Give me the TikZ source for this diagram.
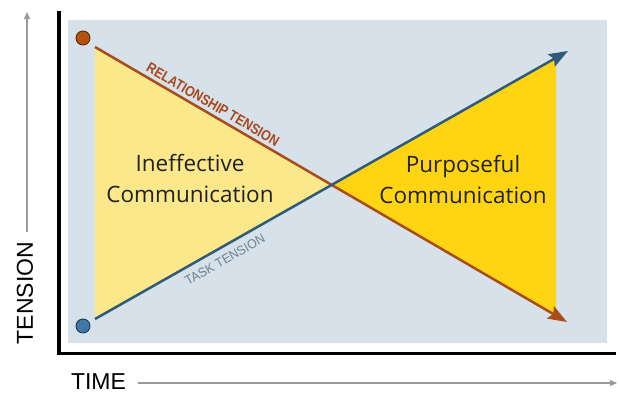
\documentclass[tikz,border=0pt]{standalone}
\usepackage{fontspec}
\setmainfont{Liberation Sans}
\newfontfamily\osans{Open Sans}
\usetikzlibrary{arrows.meta,calc}
\definecolor{panelc}{HTML}{D7E1EA}
\definecolor{lyel}{HTML}{FBE88A}
\definecolor{goldc}{HTML}{FFD513}
\definecolor{redl}{HTML}{A94C1C}
\definecolor{reddot}{HTML}{B5520F}
\definecolor{reddark}{HTML}{5A2A0A}
\definecolor{bluel}{HTML}{2F5A78}
\definecolor{bluedot}{HTML}{3E78A8}
\definecolor{bluedark}{HTML}{1F3A50}
\definecolor{tasktxt}{HTML}{6E8094}
\definecolor{reltxt}{HTML}{A9481C}
\definecolor{axgray}{HTML}{9A9A9A}
\definecolor{bigtxt}{HTML}{222222}
\tikzset{
  dotnode/.style={circle, minimum size=14pt, inner sep=0pt, line width=0.9pt},
  tensionline/.style={line width=2.5pt, -{Stealth[length=19pt,width=14pt,inset=3pt]}},
  axislabel/.style={font=\fontsize{23}{23}\selectfont, text=black, inner sep=0pt},
  guidearrow/.style={axgray, line width=1.3pt, -{Triangle[length=7pt,width=6pt]}},
  biglabel/.style={font=\osans\fontsize{22.5}{31}\selectfont, text=bigtxt, align=center, inner sep=0pt},
}
\begin{document}
\begin{tikzpicture}[x=1pt,y=-1pt]
\useasboundingbox[fill=white] (0,0) rectangle (619,394);
% panel
\fill[panelc] (68,20) rectangle (607,343);
% coordinates
\coordinate (rs) at (95,47);
\coordinate (re) at (567,322);
\coordinate (bs) at (95,319);
\coordinate (be) at (568,51);
\coordinate (cx) at (intersection of rs--re and bs--be);
\coordinate (gt) at (556,57.8);
\coordinate (gb) at (556,315.6);
% triangles
\fill[lyel] (rs) -- (cx) -- (bs) -- cycle;
\fill[goldc] (cx) -- (gt) -- (gb) -- cycle;
% lines
\draw[tensionline, redl] (rs) -- (re);
\draw[tensionline, bluel] (bs) -- (be);
% dots
\node[dotnode, fill=reddot, draw=reddark] (rdot) at (83,38) {};
\node[dotnode, fill=bluedot, draw=bluedark] (bdot) at (83,326) {};
% black axes
\coordinate (axtop) at (59,11);
\coordinate (axright) at (616,353.5);
\draw[line width=3.5pt] (axtop) |- (axright);
% line labels
\node[rotate=-30.2, font=\bfseries\fontsize{14.5}{14.5}\selectfont, text=reltxt, inner sep=0pt, xscale=0.86] (rellab) at (213,104.5) {RELATIONSHIP TENSION};
\node[rotate=29.5, font=\fontsize{13}{13}\selectfont, text=tasktxt, inner sep=0pt, xscale=0.95] (tasklab) at (225,259.5) {TASK TENSION};
% big labels
\node[biglabel] (ineff) at (190,178) {Ineffective\\Communication};
\node[biglabel] (purp) at (463,179) {Purposeful\\Communication};
% axis labels
\node[axislabel, rotate=90] (tens) at (25,293) {TENSION};
\node[axislabel] (time) at (98.5,382) {TIME};
\coordinate (vstart) at (27,232);
\coordinate (vend) at (27,12);
\coordinate (hstart) at (138,383);
\coordinate (hend) at (617,383);
\draw[guidearrow] (vstart) -- (vend);
\draw[guidearrow] (hstart) -- (hend);
\end{tikzpicture}
\end{document}
